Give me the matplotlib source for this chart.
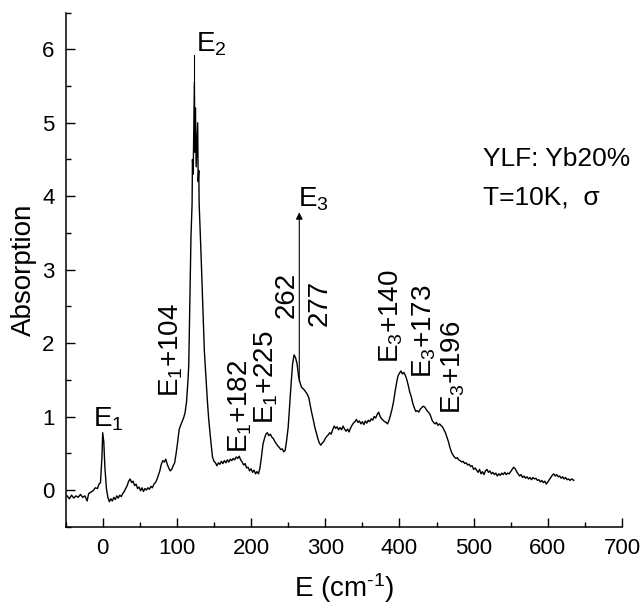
import numpy as np
import matplotlib
matplotlib.use("Agg")
import matplotlib.pyplot as plt

plt.rcParams["font.family"] = ["Liberation Sans", "DejaVu Sans"]
plt.rcParams["mathtext.fontset"] = "custom"
plt.rcParams["mathtext.rm"] = "Liberation Sans"
plt.rcParams["mathtext.it"] = "Liberation Sans"
plt.rcParams["mathtext.default"] = "regular"
plt.rcParams["axes.unicode_minus"] = False

# absorption spectrum
energy = [
    -48, -45, -42, -39, -36, -33, -30, -27, -24, -21, -19, -16, -13, -10, -7, -5, -3, -1,
    0, 1.5, 3, 5, 7, 9, 11, 13, 15, 17, 19, 21, 23, 25, 27, 29, 31, 33, 35, 37, 39, 41,
    43, 45, 47, 49, 51, 53, 55, 57, 59, 61, 63, 65, 67, 69, 71, 73, 75, 77, 79, 81, 83,
    85, 87, 89, 91, 93, 95, 97, 99, 101, 103, 105, 107, 109, 111, 113, 115, 116, 117,
    119, 120.5, 121, 122, 123, 123.6, 124.3, 125, 126, 127, 128, 128.7, 129.5, 130,
    132.5, 135.5, 137, 141, 143, 146, 148, 150, 152, 154, 156, 158, 160, 162, 164, 166,
    168, 170, 172, 174, 176, 178, 180, 182, 184, 186, 188, 190, 192, 194, 196, 198, 200,
    202, 204, 206, 208, 210, 212, 214, 216, 218, 220, 222, 224, 226, 228, 230, 232, 234,
    236, 238, 240, 242, 244, 246, 248, 250, 252, 254, 256, 258, 260, 262, 264, 266, 268,
    270, 272, 274, 276, 278, 280, 282, 284, 286, 288, 290, 292, 294, 296, 298, 300, 302,
    304, 306, 308, 310, 312, 314, 316, 318, 320, 322, 324, 326, 328, 330, 332, 334, 336,
    338, 340, 342, 344, 346, 348, 350, 352, 354, 356, 358, 360, 362, 364, 366, 368, 370,
    372, 374, 376, 378, 380, 382, 384, 386, 388, 390, 392, 394, 396, 398, 400, 402, 404,
    406, 408, 410, 412, 414, 416, 418, 420, 422, 424, 426, 428, 430, 432, 434, 436, 438,
    440, 442, 444, 446, 448, 450, 452, 454, 456, 458, 460, 462, 464, 466, 468, 470, 472,
    474, 476, 478, 480, 482, 484, 486, 488, 490, 492, 494, 496, 498, 500, 502, 504, 506,
    508, 510, 512, 514, 516, 518, 520, 522, 524, 526, 528, 530, 532, 534, 536, 538, 540,
    542, 544, 546, 548, 550, 552, 554, 556, 558, 560, 562, 564, 566, 568, 570, 572, 574,
    576, 578, 580, 582, 584, 586, 588, 590, 592, 594, 596, 598, 600, 602, 604, 606, 608,
    610, 612, 614, 616, 618, 620, 622, 624, 626, 628, 630, 632, 634, 635,
]
absorption = [
    -0.08, -0.12, -0.07, -0.11, -0.08, -0.10, -0.06, -0.10, -0.08, -0.15, -0.05, -0.03,
    -0.01, 0.03, 0.02, 0.08, 0.10, 0.45,
    0.78, 0.65, 0.30, 0.02, -0.10, -0.16, -0.12, -0.15, -0.10, -0.13, -0.08, -0.11, -0.07,
    -0.09, -0.05, -0.02, 0.02, 0.06, 0.12, 0.15, 0.10, 0.12,
    0.06, 0.08, 0.02, 0.04, -0.01, 0.03, -0.02, 0.02, 0.00, 0.03, 0.01, 0.05, 0.03, 0.08,
    0.10, 0.14, 0.20, 0.26, 0.35, 0.40, 0.38,
    0.42, 0.35, 0.30, 0.26, 0.28, 0.33, 0.37, 0.50, 0.65, 0.82, 0.88, 0.93, 0.98, 1.05,
    1.20, 1.50, 1.70, 2.30,
    3.45, 3.90, 4.50, 4.30, 5.10, 5.55, 4.60, 5.20, 4.40, 4.70, 5.00, 4.20, 4.35, 3.90,
    3.23, 2.35, 1.90, 1.23, 0.95, 0.64, 0.45, 0.39, 0.37, 0.33, 0.37, 0.35, 0.39, 0.36,
    0.40, 0.37,
    0.41, 0.38, 0.42, 0.40, 0.43, 0.41, 0.45, 0.43, 0.46, 0.41, 0.38, 0.34, 0.36, 0.30,
    0.31, 0.26, 0.29,
    0.24, 0.27, 0.22, 0.25, 0.22, 0.30, 0.45, 0.62, 0.70, 0.76, 0.78, 0.74, 0.76, 0.72,
    0.70, 0.66, 0.63,
    0.60, 0.58, 0.55, 0.56, 0.52, 0.54, 0.68, 0.85, 1.15, 1.45, 1.72, 1.84, 1.80, 1.72,
    1.55, 1.46, 1.40,
    1.38, 1.36, 1.33, 1.30, 1.25, 1.14, 1.04, 0.95, 0.85, 0.78, 0.70, 0.64, 0.61, 0.64,
    0.66, 0.70, 0.73,
    0.75, 0.78, 0.76, 0.82, 0.87, 0.84, 0.86, 0.82, 0.85, 0.82, 0.87, 0.83, 0.80, 0.83,
    0.79, 0.84, 0.88,
    0.91, 0.93, 0.96, 0.92, 0.94, 0.90, 0.93, 0.89, 0.94, 0.91, 0.95, 0.93, 0.97, 0.95,
    1.00, 0.98, 1.03,
    1.06, 1.00, 0.97, 0.95, 0.93, 0.92, 0.90, 0.95, 1.02, 1.10, 1.20, 1.33, 1.45, 1.55,
    1.59, 1.62, 1.58,
    1.60, 1.56, 1.50, 1.42, 1.33, 1.27, 1.18, 1.12, 1.07, 1.08, 1.06, 1.10, 1.12, 1.14,
    1.13, 1.10, 1.07,
    1.05, 1.01, 0.95, 0.92, 0.90, 0.92, 0.88, 0.90, 0.88, 0.86, 0.82, 0.78, 0.72, 0.66,
    0.58, 0.52, 0.48,
    0.45, 0.43, 0.44, 0.41, 0.40, 0.38, 0.39, 0.36, 0.37, 0.34, 0.35, 0.32, 0.33, 0.28,
    0.30, 0.27, 0.24,
    0.28, 0.22, 0.25, 0.21, 0.26, 0.28, 0.24, 0.26, 0.22, 0.24, 0.21, 0.23, 0.19, 0.22,
    0.20, 0.23, 0.21,
    0.24, 0.21, 0.23, 0.22, 0.25, 0.28, 0.31, 0.29, 0.25, 0.22, 0.19, 0.21, 0.17, 0.19,
    0.16, 0.18, 0.15,
    0.17, 0.14, 0.17, 0.15, 0.16, 0.13, 0.14, 0.11, 0.13, 0.10, 0.12, 0.08, 0.11, 0.14,
    0.17, 0.20, 0.22,
    0.19, 0.21, 0.18, 0.19, 0.16, 0.18, 0.15, 0.17, 0.14, 0.15, 0.13, 0.15, 0.14, 0.13,
]

# vertical peak labels: (text, x, y centre)
peak_labels = [
    ("E$_1$+104", 93, 1.91),
    ("E$_1$+182", 186, 1.14),
    ("E$_1$+225", 221, 1.53),
    ("262", 248, 2.66),
    ("277", 293, 2.55),
    ("E$_3$+140", 389, 2.37),
    ("E$_3$+173", 434, 2.16),
    ("E$_3$+196", 473, 1.67),
]

fig = plt.figure(figsize=(6.42, 6.08), dpi=100)
ax = fig.add_axes([0.1022, 0.1337, 0.8666, 0.8456])

ax.plot(energy, absorption, color="black", linewidth=1.0)

# E2 marker line and E3 arrow
ax.plot([123.6, 123.6], [5.55, 5.92], color="black", linewidth=0.8)
ax.annotate("", xy=(265, 3.78), xytext=(265, 1.48),
            arrowprops=dict(arrowstyle="-|>", color="black", lw=0.8,
                            mutation_scale=10, shrinkA=0, shrinkB=0))

ax.text(8, 0.86, "E$_1$", fontsize=20, ha="center", va="baseline")
ax.text(125.5, 5.97, "E$_2$", fontsize=20, ha="left", va="baseline")
ax.text(263, 3.86, "E$_3$", fontsize=20, ha="left", va="baseline")
for txt, x, y in peak_labels:
    ax.text(x, y, txt, fontsize=20, rotation=90, ha="center", va="center")

ax.text(512, 4.41, "YLF: Yb20%", fontsize=19, ha="left", va="baseline")
ax.text(512, 3.89, "T=10K,  σ", fontsize=19, ha="left", va="baseline")

ax.set_xlim(-50, 700)
ax.set_ylim(-0.5, 6.5)
ax.set_xticks(np.arange(0, 701, 100))
ax.set_xticks(np.arange(-50, 701, 50), minor=True)
ax.set_yticks(np.arange(0, 7, 1))
ax.set_yticks(np.arange(-0.5, 6.6, 0.5), minor=True)
ax.spines["top"].set_visible(False)
ax.spines["right"].set_visible(False)
for s in ("left", "bottom"):
    ax.spines[s].set_linewidth(1.1)
ax.tick_params(which="major", direction="in", length=6.5, width=1.0,
               labelsize=16, pad=8)
ax.tick_params(which="minor", direction="in", length=3.5, width=1.0)

ax.set_xlabel(r"E (cm$^{\text{-}1}$)", fontsize=20, labelpad=9)
ax.set_ylabel("Absorption", fontsize=20, labelpad=4)

fig.savefig("out.png", dpi=100)
